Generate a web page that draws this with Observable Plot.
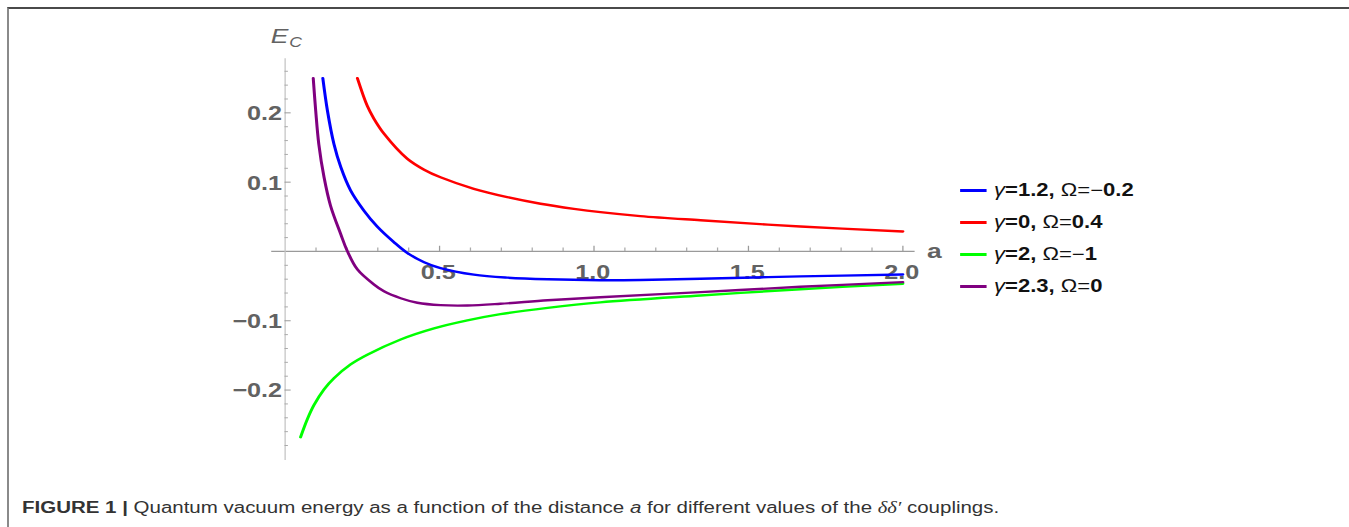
<!DOCTYPE html>
<html><head><meta charset="utf-8">
<script src="https://cdn.jsdelivr.net/npm/d3@7"></script>
<script src="https://cdn.jsdelivr.net/npm/@observablehq/plot@0.6"></script>
<style>
html,body{margin:0;padding:0;background:#fff;}
#wrap{position:relative;width:1349px;height:527px;overflow:hidden;font-family:"Liberation Sans",Arial,sans-serif;}
#frame{position:absolute;left:7px;top:7px;right:-5px;bottom:-5px;border-top:2px solid #4a4a4a;border-left:2px solid #8a8a8a;}
/* the reference figure is stretched horizontally */
#stage{position:absolute;left:0;top:0;width:1070.6px;height:490px;transform:scaleX(1.26);transform-origin:0 0;}
#chart{position:absolute;left:0;top:0;}
#legend{position:absolute;left:761.9px;top:174px;font-size:17.5px;color:#111;}
.row{height:32px;display:flex;align-items:center;white-space:nowrap;}
.sw{width:21.4px;height:3px;margin-right:5.6px;flex:none;}
.g{font-style:italic;}
#caption{position:absolute;left:22px;top:500px;font-size:16px;line-height:16px;color:#333;white-space:nowrap;transform:scaleX(1.28);transform-origin:0 0;}
#caption .d{font-family:"Liberation Serif",serif;font-style:italic;}
</style></head>
<body><div id="wrap"><div id="frame"></div>
<div id="stage"><div id="chart"></div><div id="legend"></div></div>
<div id="caption"><b>FIGURE 1 |</b> Quantum vacuum energy as a function of the distance <i>a</i> for different values of the <span class="d">δδ′</span> couplings.</div></div>
<script>
// series identity
const gammaVals = ["1.2", "0", "2", "2.3"];
const omegaSigns = ["−", "", "−", ""];
const omegaVals = ["0.2", "0.4", "1", "0"];
const seriesColors = ["#0000ff", "#ff0000", "#00ff00", "#800080"];
const seriesNames = gammaVals.map((g, i) => `γ=${g}, Ω=${omegaSigns[i]}${omegaVals[i]}`);

// curve values (a, E_C)
const blueA = [0.122,0.137,0.158,0.180,0.212,0.255,0.298,0.352,0.395,0.45,0.503,0.611,0.719,0.85,1.02,1.15,1.345,1.668,2.0];
const blueE = [0.25,0.203,0.155,0.122,0.088,0.059,0.036,0.0135,-0.002,-0.0155,-0.024,-0.0335,-0.0378,-0.0402,-0.0415,-0.0412,-0.0394,-0.036,-0.0332];
const redA = [0.234,0.266,0.287,0.320,0.395,0.45,0.503,0.611,0.719,0.827,0.935,1.021,1.15,1.345,1.668,2.0];
const redE = [0.25,0.21,0.192,0.170,0.134,0.118,0.107,0.0904,0.0784,0.0688,0.0615,0.0567,0.051,0.045,0.036,0.0289];
const greenA = [0.050,0.072,0.093,0.126,0.158,0.212,0.266,0.374,0.482,0.590,0.697,0.85,1.02,1.345,1.668,2.0];
const greenE = [-0.268,-0.242,-0.222,-0.199,-0.183,-0.163,-0.149,-0.127,-0.111,-0.0995,-0.0905,-0.0815,-0.0735,-0.0635,-0.0545,-0.0465];
const purpleA = [0.091,0.099,0.109,0.126,0.147,0.180,0.200,0.234,0.287,0.320,0.374,0.428,0.503,0.590,0.697,0.85,1.02,1.345,1.668,2.0];
const purpleE = [0.25,0.203,0.155,0.107,0.066,0.025,0.002,-0.026,-0.0475,-0.0575,-0.0675,-0.074,-0.0775,-0.078,-0.0755,-0.0705,-0.066,-0.0587,-0.051,-0.0443];

// axes ticks
const xMajor = [0.5, 1.0, 1.5, 2.0];
const xMajorLabels = ["0.5", "1.0", "1.5", "2.0"];
const xMinor = [0.1,0.2,0.3,0.4,0.6,0.7,0.8,0.9,1.1,1.2,1.3,1.4,1.6,1.7,1.8,1.9];
const yMajor = [-0.2, -0.1, 0.1, 0.2];
const yMajorLabels = ["−0.2", "−0.1", "0.1", "0.2"];
const yMinor = [-0.28,-0.26,-0.24,-0.22,-0.18,-0.16,-0.14,-0.12,-0.08,-0.06,-0.04,-0.02,0.02,0.04,0.06,0.08,0.12,0.14,0.16,0.18,0.22,0.24,0.26];
const xDomain = [0, 2];
const yDomain = [-0.3016, 0.278];
const xAxisExtent = [-0.043, 2.04];

const seriesA = [blueA, redA, greenA, purpleA];
const seriesE = [blueE, redE, greenE, purpleE];
const rows = [];
seriesNames.forEach((s, i) => seriesA[i].forEach((a, j) => rows.push({s, a, E: seriesE[i][j]})));

const SX = 1.26;              // horizontal stretch of the figure
const W = 1349 / SX, H = 490;
const tickFill = "#626262";
const chart = Plot.plot({
  width: W, height: H,
  marginLeft: 284.5 / SX, marginRight: W - 902.3 / SX, marginTop: 58.3, marginBottom: H - 460,
  x: {domain: xDomain, axis: null},
  y: {domain: yDomain, axis: null},
  color: {domain: seriesNames, range: seriesColors},
  style: {fontFamily: "'Liberation Sans', Arial, sans-serif", background: "transparent", overflow: "visible"},
  marks: [
    Plot.ruleY([0], {x1: xAxisExtent[0], x2: xAxisExtent[1], stroke: "#9a9a9a", strokeWidth: 1.2}),
    Plot.ruleX([0], {y1: yDomain[0], y2: yDomain[1], stroke: "#c4c4c4", strokeWidth: 1}),
    Plot.ruleX(xMajor, {x: d => d, y1: 0, y2: 0.0075, stroke: "#9a9a9a"}),
    Plot.ruleX(xMinor, {x: d => d, y1: 0, y2: 0.005, stroke: "#aaaaaa"}),
    Plot.ruleY(yMajor, {y: d => d, x1: 0, x2: 0.02, stroke: "#9a9a9a"}),
    Plot.ruleY(yMinor, {y: d => d, x1: 0, x2: 0.011, stroke: "#aaaaaa"}),
    Plot.text(xMajor, {x: d => d, y: 0, text: (d, i) => xMajorLabels[i], lineAnchor: "top", dy: 13, dx: -1,
      fontSize: 20, fontWeight: "bold", fill: tickFill}),
    Plot.text(yMajor, {x: 0, y: d => d, text: (d, i) => yMajorLabels[i], textAnchor: "end", dx: -2.4, dy: 1,
      fontSize: 20, fontWeight: "bold", fill: tickFill}),
    Plot.text(["a"], {x: xAxisExtent[1], y: 0, dx: 15.2, fontSize: 21, fontWeight: "bold", fill: tickFill}),
    Plot.text(["E"], {frameAnchor: "top-left", dx: -11.5, dy: -15.3, lineAnchor: "bottom", textAnchor: "start",
      fontSize: 21, fontStyle: "italic", fill: tickFill}),
    Plot.text(["C"], {frameAnchor: "top-left", dx: 3.2, dy: -11.3, lineAnchor: "bottom", textAnchor: "start",
      fontSize: 14, fontStyle: "italic", fill: tickFill}),
    Plot.line(rows, {x: "a", y: "E", z: "s", stroke: "s", curve: "catmull-rom", strokeWidth: 2.4})
  ]
});
document.getElementById("chart").appendChild(chart);

// legend
const legend = document.getElementById("legend");
seriesNames.forEach((s, i) => {
  const row = document.createElement("div");
  row.className = "row";
  row.innerHTML = `<span class="sw" style="background:${seriesColors[i]}"></span>` +
    `<span class="g">γ</span><b>=${gammaVals[i]},</b>&nbsp;Ω=${omegaSigns[i]}<b>${omegaVals[i]}</b>`;
  legend.appendChild(row);
});
</script>
</body></html>
